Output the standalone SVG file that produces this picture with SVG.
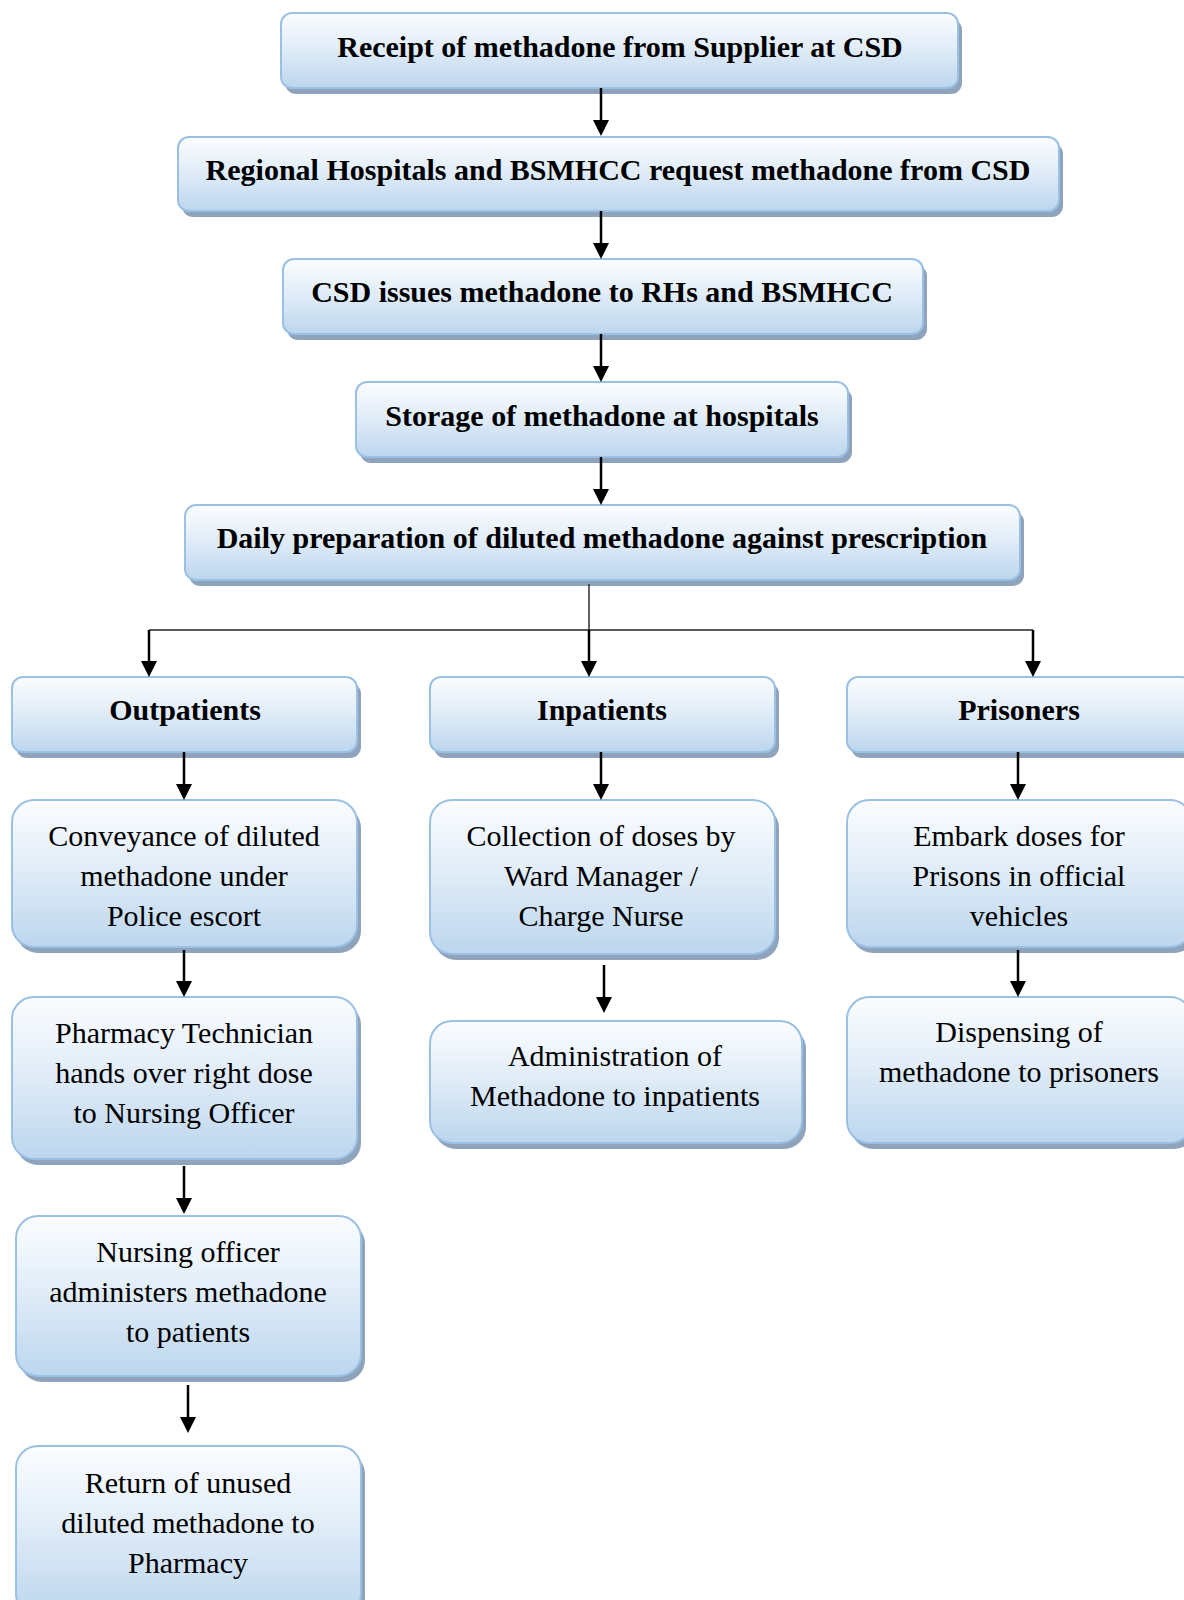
<svg xmlns="http://www.w3.org/2000/svg" width="1184" height="1600" viewBox="0 0 1184 1600">
<defs>
<linearGradient id="g" x1="0" y1="0" x2="0" y2="1">
<stop offset="0" stop-color="#fbfdff"/>
<stop offset="0.45" stop-color="#e2edf8"/>
<stop offset="1" stop-color="#bcd6ee"/>
</linearGradient>
<marker id="ah" viewBox="0 -8 16 16" refX="8" refY="0" markerWidth="16" markerHeight="16" markerUnits="userSpaceOnUse" orient="auto">
<path d="M0,-8 L16,0 L0,8 Z" fill="#000"/>
</marker>
<style>
.sh{fill:#8fa4bc}
.bx{fill:url(#g);stroke:#9ac0e4;stroke-width:2}
.b{font-family:"Liberation Serif","Times New Roman",serif;font-weight:bold;font-size:30px;fill:#000;text-anchor:middle}
.r{font-family:"Liberation Serif","Times New Roman",serif;font-size:30px;fill:#000;text-anchor:middle}
.ar{stroke:#000;stroke-width:2.5;fill:none;marker-end:url(#ah)}
.ln{stroke:#222;stroke-width:1.4;fill:none}
</style>
</defs>
<rect width="1184" height="1600" fill="#fff"/>

<g id="n1"><rect class="sh" x="285" y="19" width="677" height="75" rx="11"/><rect class="bx" x="281" y="13" width="677" height="75" rx="11"/><text class="b" x="620" y="57">Receipt of methadone from Supplier at CSD</text></g>
<g id="n2"><rect class="sh" x="182" y="143" width="881" height="74" rx="11"/><rect class="bx" x="178" y="137" width="881" height="74" rx="11"/><text class="b" x="618" y="180">Regional Hospitals and BSMHCC request methadone from CSD</text></g>
<g id="n3"><rect class="sh" x="287" y="265" width="640" height="75" rx="11"/><rect class="bx" x="283" y="259" width="640" height="75" rx="11"/><text class="b" x="602" y="302">CSD issues methadone to RHs and BSMHCC</text></g>
<g id="n4"><rect class="sh" x="360" y="388" width="492" height="75" rx="11"/><rect class="bx" x="356" y="382" width="492" height="75" rx="11"/><text class="b" x="602" y="426">Storage of methadone at hospitals</text></g>
<g id="n5"><rect class="sh" x="189" y="511" width="835" height="75" rx="11"/><rect class="bx" x="185" y="505" width="835" height="75" rx="11"/><text class="b" x="602" y="548">Daily preparation of diluted methadone against prescription</text></g>

<g id="n6"><rect class="sh" x="16" y="683" width="345" height="75" rx="11"/><rect class="bx" x="12" y="677" width="345" height="75" rx="11"/><text class="b" x="185" y="720">Outpatients</text></g>
<g id="n7"><rect class="sh" x="434" y="683" width="345" height="75" rx="11"/><rect class="bx" x="430" y="677" width="345" height="75" rx="11"/><text class="b" x="602" y="720">Inpatients</text></g>
<g id="n8"><rect class="sh" x="851" y="683" width="345" height="75" rx="11"/><rect class="bx" x="847" y="677" width="345" height="75" rx="11"/><text class="b" x="1019" y="720">Prisoners</text></g>

<g id="n9"><rect class="sh" x="16" y="806" width="345" height="147" rx="22"/><rect class="bx" x="12" y="800" width="345" height="147" rx="22"/><text class="r" x="184" y="846">Conveyance of diluted</text><text class="r" x="184" y="886">methadone under</text><text class="r" x="184" y="926">Police escort</text></g>
<g id="n10"><rect class="sh" x="434" y="806" width="345" height="154" rx="22"/><rect class="bx" x="430" y="800" width="345" height="154" rx="22"/><text class="r" x="601" y="846">Collection of doses by</text><text class="r" x="601" y="886">Ward Manager /</text><text class="r" x="601" y="926">Charge Nurse</text></g>
<g id="n11"><rect class="sh" x="851" y="806" width="345" height="147" rx="22"/><rect class="bx" x="847" y="800" width="345" height="147" rx="22"/><text class="r" x="1019" y="846">Embark doses for</text><text class="r" x="1019" y="886">Prisons in official</text><text class="r" x="1019" y="926">vehicles</text></g>

<g id="n12"><rect class="sh" x="16" y="1003" width="345" height="162" rx="22"/><rect class="bx" x="12" y="997" width="345" height="162" rx="22"/><text class="r" x="184" y="1043">Pharmacy Technician</text><text class="r" x="184" y="1083">hands over right dose</text><text class="r" x="184" y="1123">to Nursing Officer</text></g>
<g id="n13"><rect class="sh" x="434" y="1027" width="372" height="122" rx="22"/><rect class="bx" x="430" y="1021" width="372" height="122" rx="22"/><text class="r" x="615" y="1066">Administration of</text><text class="r" x="615" y="1106">Methadone to inpatients</text></g>
<g id="n14"><rect class="sh" x="851" y="1003" width="345" height="146" rx="22"/><rect class="bx" x="847" y="997" width="345" height="146" rx="22"/><text class="r" x="1019" y="1042">Dispensing of</text><text class="r" x="1019" y="1082">methadone to prisoners</text></g>

<g id="n15"><rect class="sh" x="20" y="1222" width="345" height="160" rx="22"/><rect class="bx" x="16" y="1216" width="345" height="160" rx="22"/><text class="r" x="188" y="1262">Nursing officer</text><text class="r" x="188" y="1302">administers methadone</text><text class="r" x="188" y="1342">to patients</text></g>
<g id="n16"><rect class="sh" x="20" y="1452" width="345" height="170" rx="22"/><rect class="bx" x="16" y="1446" width="345" height="170" rx="22"/><text class="r" x="188" y="1493">Return of unused</text><text class="r" x="188" y="1533">diluted methadone to</text><text class="r" x="188" y="1573">Pharmacy</text></g>

<g id="connectors">
<line class="ar" x1="601" y1="88" x2="601" y2="128"/>
<line class="ar" x1="601" y1="211" x2="601" y2="251"/>
<line class="ar" x1="601" y1="334" x2="601" y2="374"/>
<line class="ar" x1="601" y1="457" x2="601" y2="497"/>
<polyline class="ln" points="589,584 589,630"/>
<polyline class="ln" points="149,630 1033,630"/>
<line class="ar" x1="149" y1="630" x2="149" y2="669"/>
<line class="ar" x1="589" y1="630" x2="589" y2="669"/>
<line class="ar" x1="1033" y1="630" x2="1033" y2="669"/>
<line class="ar" x1="184" y1="752" x2="184" y2="792"/>
<line class="ar" x1="601" y1="752" x2="601" y2="792"/>
<line class="ar" x1="1018" y1="752" x2="1018" y2="792"/>
<line class="ar" x1="184" y1="950" x2="184" y2="989"/>
<line class="ar" x1="604" y1="965" x2="604" y2="1005"/>
<line class="ar" x1="1018" y1="950" x2="1018" y2="989"/>
<line class="ar" x1="184" y1="1166" x2="184" y2="1206"/>
<line class="ar" x1="188" y1="1385" x2="188" y2="1425"/>
</g>
</svg>
